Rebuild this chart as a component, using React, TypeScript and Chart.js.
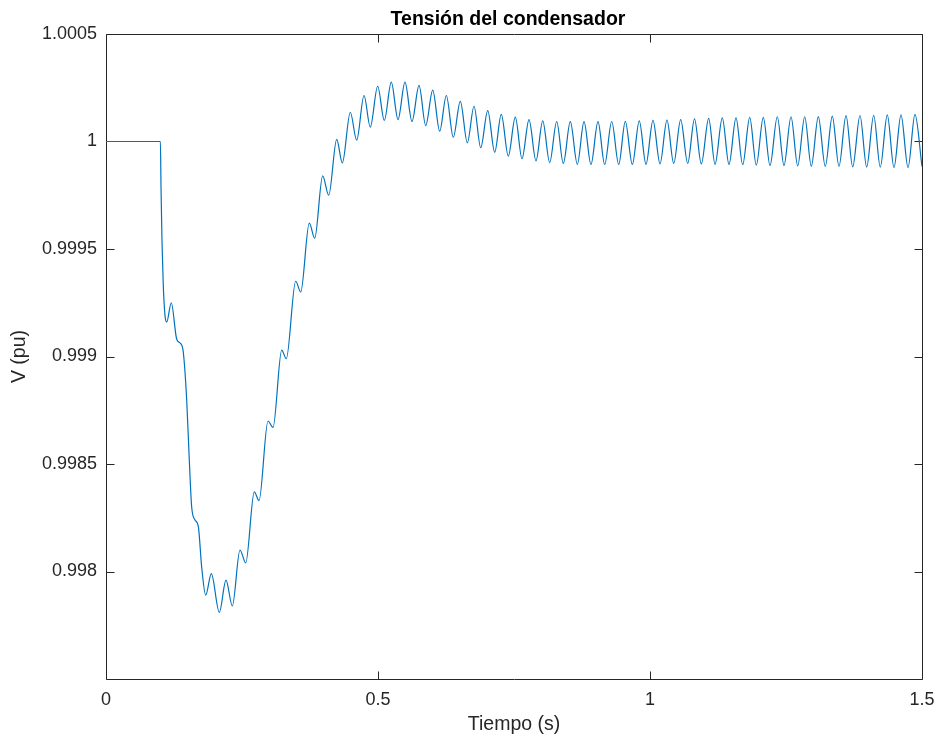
import { useEffect, useRef } from "react";
import { Chart, registerables } from "chart.js";

Chart.register(...registerables);

// Capacitor voltage after the disturbance at t = 0.1 s (peaks and troughs of the response)
const timeS = [
  0, 0.1, 0.1011, 0.1029, 0.1053, 0.1085, 0.1116, 0.12, 0.13, 0.1373,
  0.1421, 0.1483, 0.1531, 0.1575, 0.1636, 0.1697, 0.1759, 0.1833, 0.1936, 0.2083,
  0.2206, 0.2322, 0.2463, 0.2568, 0.2726, 0.2813, 0.2978, 0.307, 0.323, 0.3314,
  0.3487, 0.3579, 0.3737, 0.3836, 0.3983, 0.4094, 0.4241, 0.4344, 0.4491, 0.4608,
  0.4743, 0.4858, 0.4994, 0.5116, 0.5244, 0.5368, 0.5496, 0.5625, 0.5754, 0.5877,
  0.6006, 0.6134, 0.6256, 0.6384, 0.6513, 0.6642, 0.6765, 0.6888, 0.7017, 0.7145,
  0.7266, 0.7395, 0.7524, 0.7647, 0.7776, 0.7904, 0.8028, 0.8156, 0.8285, 0.8406,
  0.8535, 0.8664, 0.8787, 0.8915, 0.9044, 0.9167, 0.9296, 0.9425, 0.9546, 0.9675,
  0.9803, 0.9926, 1.0055, 1.0184, 1.0312, 1.0436, 1.0564, 1.0693, 1.0818, 1.0943,
  1.1079, 1.1195, 1.1329, 1.1452, 1.1581, 1.1704, 1.1833, 1.1954, 1.2083, 1.2206,
  1.234, 1.2463, 1.2592, 1.2715, 1.2844, 1.2965, 1.3094, 1.3222, 1.3351, 1.3474,
  1.3603, 1.3726, 1.386, 1.3983, 1.4112, 1.4233, 1.4362, 1.4485, 1.4614, 1.4743,
  1.4871, 1.5,
];

const voltagePu = [
  1, 1, 0.99979, 0.99954, 0.99933, 0.99919, 0.99916, 0.99925, 0.99908, 0.99906,
  0.99902, 0.9988, 0.99852, 0.9983, 0.99824, 0.99821, 0.99802, 0.99789, 0.99799, 0.99781,
  0.99796, 0.99784, 0.9981, 0.99804, 0.99837, 0.99833, 0.9987, 0.99867, 0.99903, 0.99899,
  0.99935, 0.9993, 0.99962, 0.99955, 0.99984, 0.99975, 1.00001, 0.9999, 1.000136, 1.000006,
  1.000214, 1.000067, 1.000257, 1.000098, 1.000276, 1.000102, 1.000276, 1.000093, 1.000261, 1.000074,
  1.000239, 1.000048, 1.000214, 1.00002, 1.000187, 0.999994, 1.000164, 0.999971, 1.000144, 0.99995,
  1.000126, 0.999932, 1.000113, 0.99992, 1.000102, 0.99991, 1.000096, 0.999902, 1.000093, 0.999898,
  1.000092, 0.999894, 1.000092, 0.999893, 1.000092, 0.999893, 1.000093, 0.999893, 1.000094, 0.999893,
  1.000096, 0.999894, 1.000098, 0.999896, 1.000099, 0.999898, 1.000102, 0.999898, 1.000105, 0.999896,
  1.000108, 0.999894, 1.00011, 0.999893, 1.00011, 0.999892, 1.000112, 0.99989, 1.000112, 0.999888,
  1.000115, 0.999888, 1.000115, 0.999887, 1.000115, 0.999885, 1.000116, 0.999884, 1.000118, 0.999884,
  1.00012, 0.999882, 1.000121, 0.999881, 1.000122, 0.999881, 1.000124, 0.999879, 1.000124, 0.999879,
  1.000126, 0.999884,
];

const xTickValues = [0, 0.5, 1, 1.5];
const yTickValues = [0.998, 0.9985, 0.999, 0.9995, 1, 1.0005];
const xRange = [0, 1.5];
const yRange = [0.9975, 1.0005];

const chartTitle = "Tensión del condensador";
const xAxisLabel = "Tiempo (s)";
const yAxisLabel = "V (pu)";

const FONT = "'Liberation Sans', Arial, Helvetica, sans-serif";
const TEXT_COLOR = "#262626";
const LINE_COLOR = "#0072BD";
const TICK_LEN = 8;

const formatTick = (v: number) => String(parseFloat(Number(v).toFixed(4)));

// Full box around the plot with inward tick marks on all four sides
const framePlugin = {
  id: "frame",
  beforeDatasetsDraw(chart: any) {
    const { ctx, chartArea: a, scales } = chart;
    const left = Math.round(a.left) + 0.5;
    const right = Math.round(a.right) + 0.5;
    const top = Math.round(a.top) + 0.5;
    const bottom = Math.round(a.bottom) + 0.5;
    ctx.save();
    ctx.strokeStyle = TEXT_COLOR;
    ctx.lineWidth = 1;
    ctx.beginPath();
    ctx.rect(left, top, right - left, bottom - top);
    for (const v of xTickValues) {
      const px = Math.round(scales.x.getPixelForValue(v)) + 0.5;
      ctx.moveTo(px, bottom);
      ctx.lineTo(px, bottom - TICK_LEN);
      ctx.moveTo(px, top);
      ctx.lineTo(px, top + TICK_LEN);
    }
    for (const v of yTickValues) {
      const py = Math.round(scales.y.getPixelForValue(v)) + 0.5;
      ctx.moveTo(left, py);
      ctx.lineTo(left + TICK_LEN, py);
      ctx.moveTo(right, py);
      ctx.lineTo(right - TICK_LEN, py);
    }
    ctx.stroke();
    ctx.restore();
  },
  afterDraw(chart: any) {
    const { ctx, chartArea: a } = chart;
    ctx.save();
    ctx.font = `bold 19.5px ${FONT}`;
    ctx.fillStyle = "#000000";
    ctx.textAlign = "center";
    ctx.textBaseline = "alphabetic";
    ctx.fillText(chartTitle, (a.left + a.right) / 2 - 6, 25);
    ctx.restore();
  },
};

export default function App() {
  const canvasRef = useRef<HTMLCanvasElement | null>(null);

  useEffect(() => {
    document.body.style.margin = "0";
    const canvas = canvasRef.current;
    if (!canvas) return;

    const points = timeS.map((t, i) => ({ x: t, y: voltagePu[i] }));

    const chart = new Chart(canvas, {
      type: "line",
      data: {
        datasets: [
          {
            data: points,
            borderColor: LINE_COLOR,
            borderWidth: 1.2,
            pointRadius: 0,
            fill: false,
            cubicInterpolationMode: "monotone",
          },
        ],
      },
      options: {
        animation: false,
        responsive: false,
        devicePixelRatio: 1,
        layout: { padding: { top: 34, right: 15, bottom: 0, left: 0 } },
        plugins: {
          legend: { display: false },
          tooltip: { enabled: false },
          title: { display: false },
        },
        scales: {
          x: {
            type: "linear",
            min: xRange[0],
            max: xRange[1],
            grid: { display: false, drawTicks: false },
            border: { display: false },
            afterBuildTicks: (s: any) => {
              s.ticks = xTickValues.map((value) => ({ value }));
            },
            afterFit: (s: any) => {
              s.height = 61;
              s.paddingLeft = 0;
              s.paddingRight = 0;
            },
            ticks: {
              padding: 10,
              color: TEXT_COLOR,
              font: { family: FONT, size: 18 },
              maxRotation: 0,
              autoSkip: false,
              callback: (v: any) => formatTick(v),
            },
            title: {
              display: true,
              text: xAxisLabel,
              color: TEXT_COLOR,
              font: { family: FONT, size: 19.5 },
              padding: { top: 0, bottom: 4 },
            },
          },
          y: {
            type: "linear",
            min: yRange[0],
            max: yRange[1],
            grid: { display: false, drawTicks: false },
            border: { display: false },
            afterBuildTicks: (s: any) => {
              s.ticks = yTickValues.map((value) => ({ value }));
            },
            afterFit: (s: any) => {
              s.width = 106;
              s.paddingTop = 0;
              s.paddingBottom = 0;
            },
            ticks: {
              padding: 9,
              color: TEXT_COLOR,
              font: { family: FONT, size: 18 },
              autoSkip: false,
              callback: (v: any) => formatTick(v),
            },
            title: {
              display: true,
              text: yAxisLabel,
              color: TEXT_COLOR,
              font: { family: FONT, size: 19.5 },
              padding: { top: 8, bottom: 0 },
            },
          },
        },
      },
      plugins: [framePlugin],
    });

    return () => chart.destroy();
  }, []);

  return (
    <div style={{ width: 937, height: 740 }}>
      <canvas ref={canvasRef} width={937} height={740} style={{ display: "block", width: 937, height: 740 }} />
    </div>
  );
}
